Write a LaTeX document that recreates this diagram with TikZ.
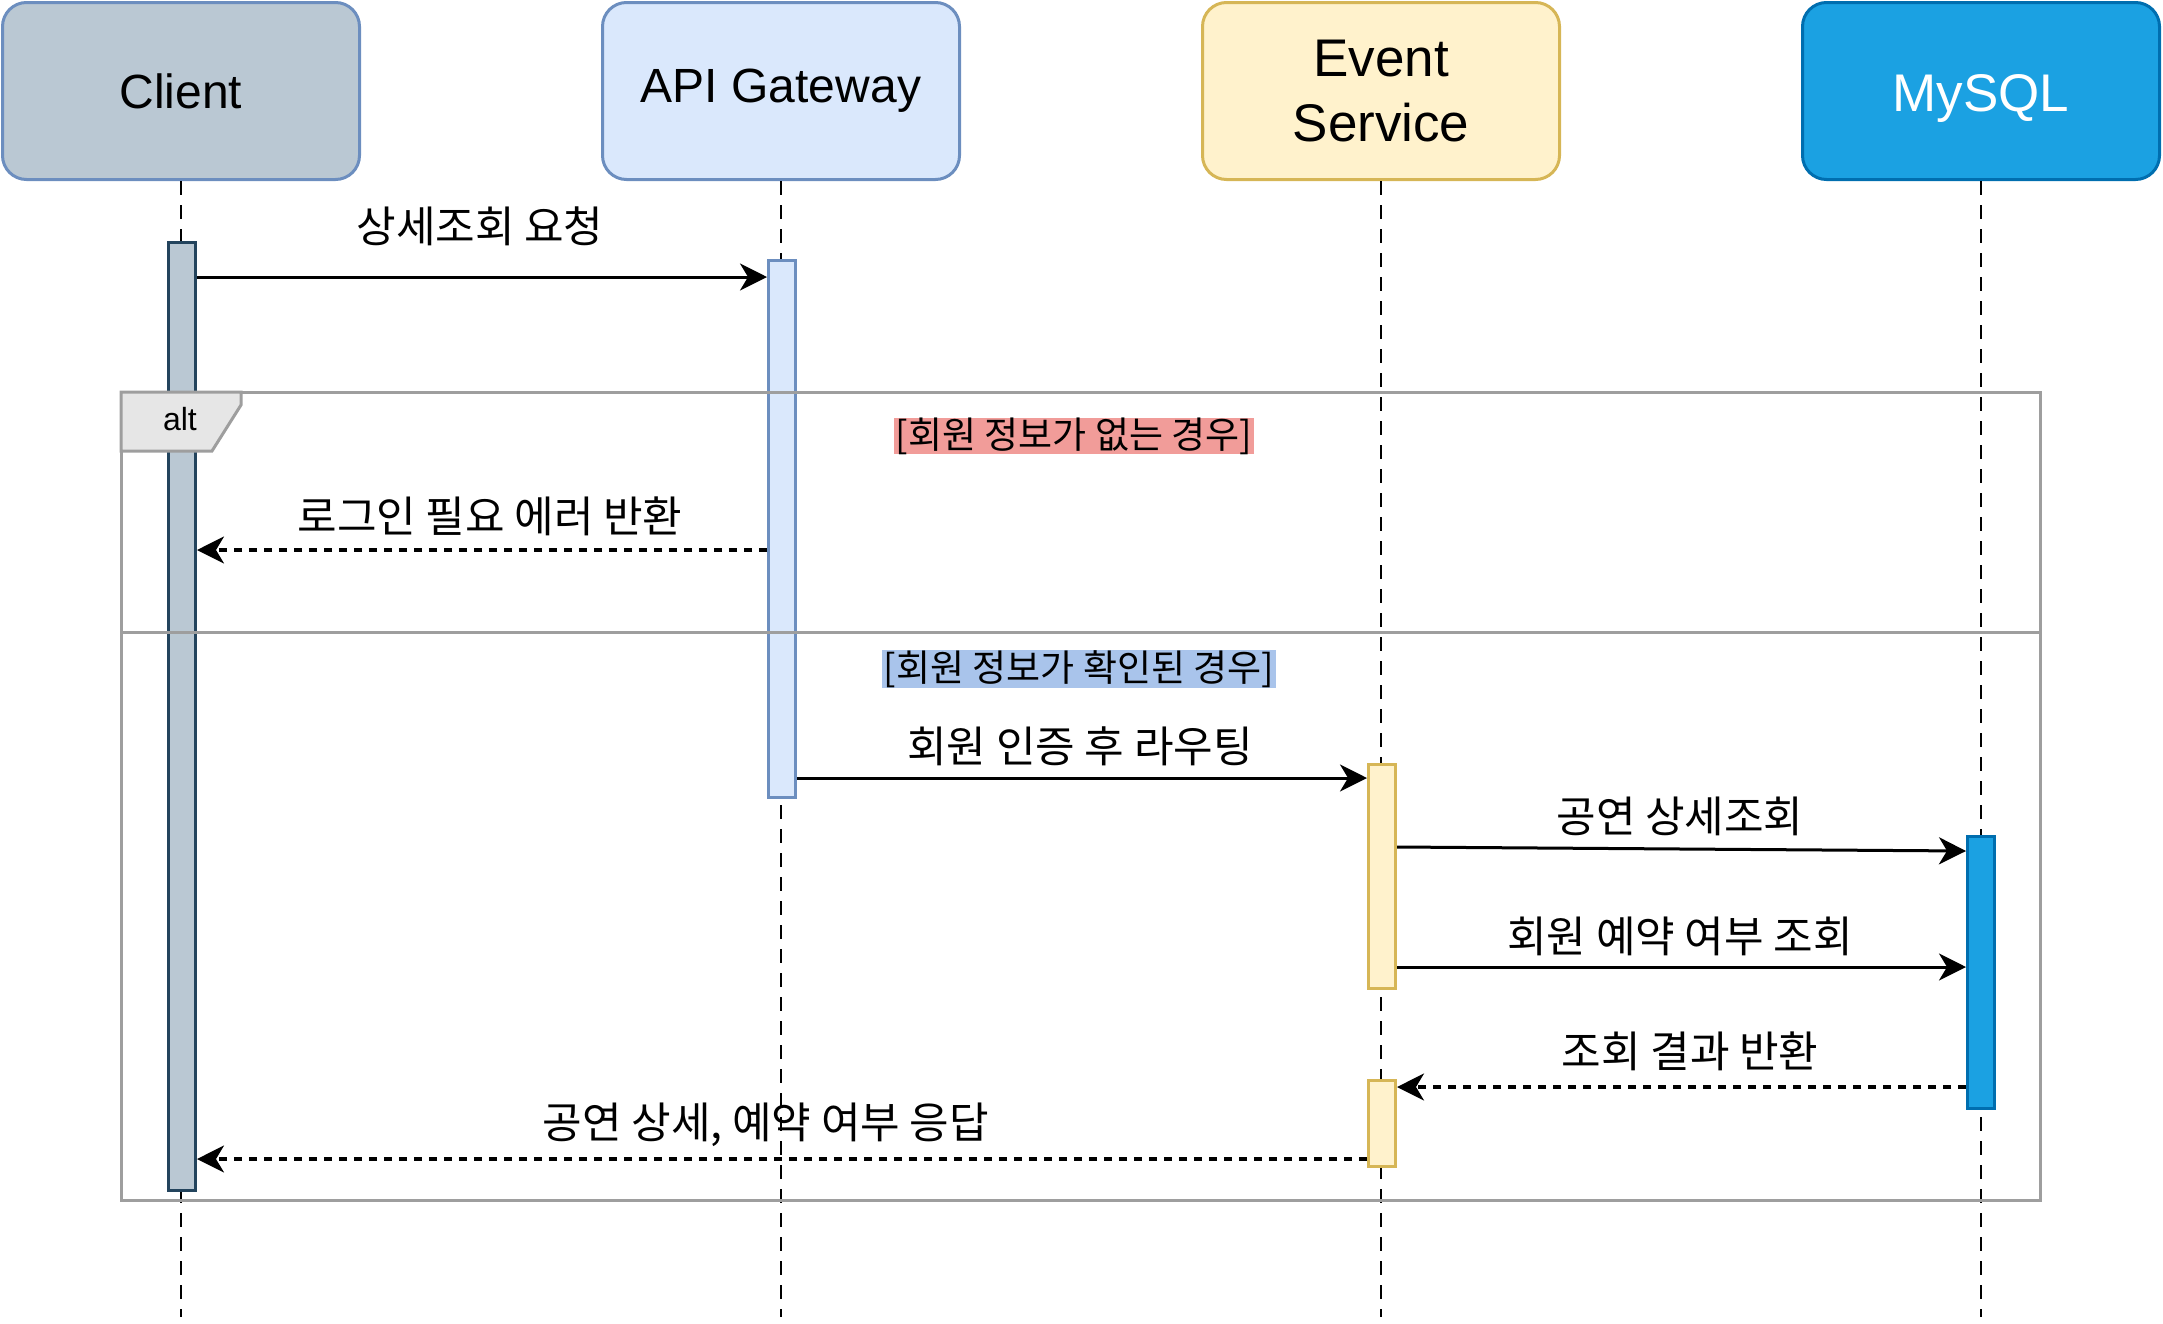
\documentclass[tikz,border=0pt]{standalone}
\usepackage{fontspec}
\setmainfont{Liberation Sans}
\newfontfamily\kr{Noto Sans CJK KR}
\usetikzlibrary{arrows.meta}
\definecolor{clientF}{HTML}{BAC8D3}
\definecolor{clientD}{HTML}{23445D}
\definecolor{apiF}{HTML}{DAE8FC}
\definecolor{apiD}{HTML}{6C8EBF}
\definecolor{evF}{HTML}{FFF2CC}
\definecolor{evD}{HTML}{D6B656}
\definecolor{dbF}{HTML}{1BA1E2}
\definecolor{dbD}{HTML}{006EAF}
\definecolor{frameD}{HTML}{9E9E9E}
\definecolor{tabF}{HTML}{E6E6E6}
\definecolor{redBg}{HTML}{F19C99}
\definecolor{blueBg}{HTML}{A9C4EB}
\begin{document}
\begin{tikzpicture}[x=1pt,y=-1pt,
  head/.style={rectangle, rounded corners=24pt, line width=3pt, minimum width=357pt, minimum height=177pt, align=center, font=\fontsize{48}{62}\selectfont},
  bighead/.style={head, font=\fontsize{53}{65}\selectfont},
  actbar/.style={rectangle, line width=3pt, minimum width=27pt, inner sep=0pt},
  life/.style={line width=2.2pt, dash pattern=on 14pt off 10pt},
  msg/.style={line width=3pt, -{Stealth[length=27pt,width=27pt,inset=8pt]}},
  ret/.style={msg, line width=3.2pt, dash pattern=on 8pt off 7pt},
  lbl/.style={inner sep=0pt, font=\kr\fontsize{43}{50}\selectfont},
  cond/.style={inner xsep=2pt, inner ysep=0pt, font=\kr\fontsize{37}{44}\selectfont}]
\useasboundingbox (0,0) rectangle (2163,1323);
% headers
\node[head, fill=clientF, draw=apiD] (client) at (181,91) {Client};
\node[head, fill=apiF, draw=apiD] (api) at (781,91) {API Gateway};
\node[bighead, fill=evF, draw=evD] (event) at (1381,91) {Event\\Service};
\node[bighead, fill=dbF, draw=dbD, text=white] (db) at (1981,91) {\raisebox{-20pt}[0pt][0pt]{MySQL}};
% lifeline ends
\coordinate (cend) at (181,1317);
\coordinate (aend) at (781,1317);
\coordinate (eend) at (1381,1317);
\coordinate (dend) at (1981,1317);
\draw[life] (client.south) -- (cend);
\draw[life] (api.south) -- (aend);
\draw[life] (event.south) -- (eend);
\draw[life] (db.south) -- (dend);
% activation bars
\node[actbar, fill=clientF, draw=clientD, minimum height=948pt] (cbar) at (182,716.5) {};
\node[actbar, fill=apiF, draw=apiD, minimum height=537pt] (abar) at (782,529) {};
\node[actbar, fill=evF, draw=evD, minimum height=224pt] (ebar1) at (1382,876.5) {};
\node[actbar, fill=evF, draw=evD, minimum height=86pt] (ebar2) at (1382,1123.5) {};
\node[actbar, fill=dbF, draw=dbD, minimum height=272pt] (dbar) at (1981,972.5) {};
% alt frame
\draw[frameD, line width=3pt] (121,392) rectangle (2040,1200);
\draw[frameD, line width=3pt] (121,632) -- (2040,632);
\draw[frameD, line width=3pt, fill=tabF] (121,392) -- (241,392) -- (241,405) -- (212,451) -- (121,451) -- cycle;
\node[inner sep=0pt, font=\fontsize{32}{38}\selectfont] (alt) at (180,419) {alt};
% condition labels
\node[cond, fill=redBg] (c1) at (1074,436) {[회원 정보가 없는 경우]};
\node[cond, fill=blueBg] (c2) at (1079,669) {[회원 정보가 확인된 경우]};
% messages
\draw[msg] (cbar.east |- 0,277) -- (abar.west |- 0,277);
\node[lbl] (l1) at (480,226) {상세조회 요청};
\draw[ret] (abar.west |- 0,550) -- (cbar.east |- 0,550);
\node[lbl] (l2) at (490,516) {로그인 필요 에러 반환};
\draw[msg] (abar.east |- 0,778) -- (ebar1.west |- 0,778);
\node[lbl] (l3) at (1080,746) {회원 인증 후 라우팅};
\draw[msg] (ebar1.east |- 0,847) -- (dbar.west |- 0,851);
\node[lbl] (l4) at (1680,816) {공연 상세조회};
\draw[msg] (ebar1.east |- 0,967) -- (dbar.west |- 0,967);
\node[lbl] (l5) at (1680,936) {회원 예약 여부 조회};
\draw[ret] (dbar.west |- 0,1087) -- (ebar2.east |- 0,1087);
\node[lbl] (l6) at (1690,1051) {조회 결과 반환};
\draw[ret] (ebar2.west |- 0,1159) -- (cbar.east |- 0,1159);
\node[lbl] (l7) at (766,1125) {공연 상세, 예약 여부 응답};
\end{tikzpicture}
\end{document}
